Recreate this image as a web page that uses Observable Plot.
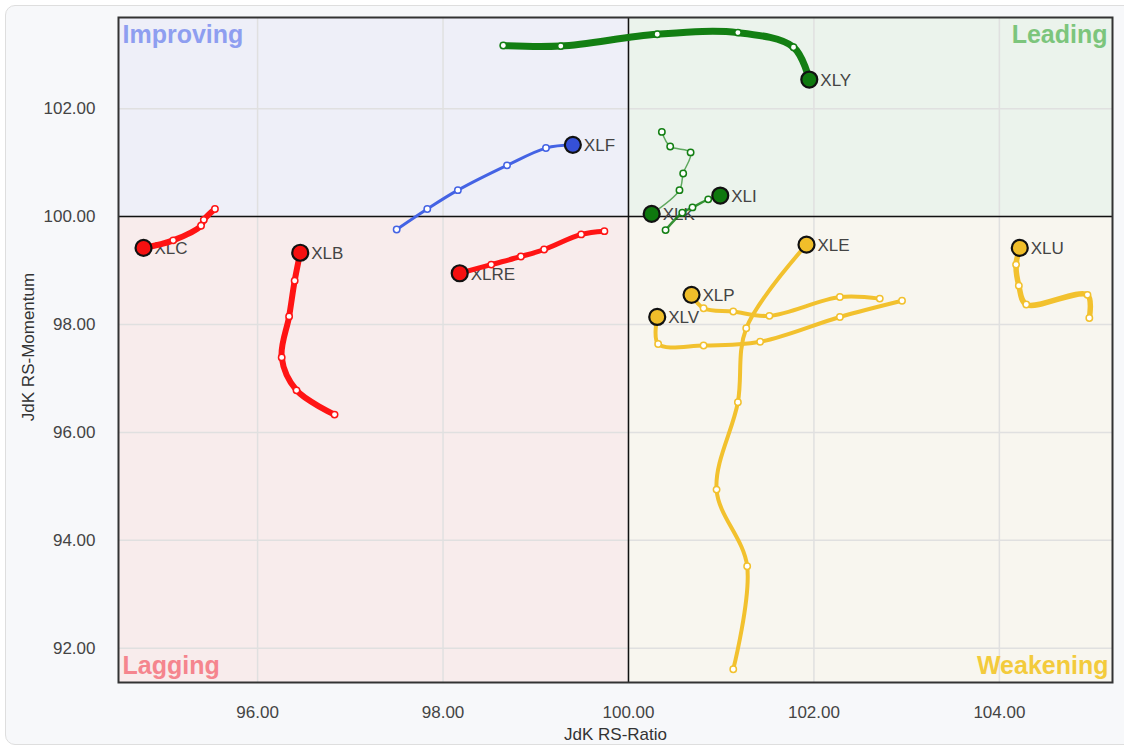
<!DOCTYPE html>
<html>
<head>
<meta charset="utf-8">
<script src="https://cdn.jsdelivr.net/npm/d3@7"></script>
<script src="https://cdn.jsdelivr.net/npm/@observablehq/plot@0.6"></script>
<style>
  html, body { margin: 0; padding: 0; background: #ffffff; width: 1124px; height: 748px; overflow: hidden; }
  #card { position: absolute; left: 5px; top: 5px; width: 1140px; height: 738px; background: #f7f8fa; border: 1px solid #dedede; border-radius: 10px; }
  #chart { position: absolute; left: 0; top: 0; }
</style>
</head>
<body>
<div id="card"></div>
<div id="chart"></div>
<script>
// ---------- DATA ----------
const symbols = ["XLY", "XLF", "XLK", "XLI", "XLC", "XLB", "XLRE", "XLE", "XLP", "XLV", "XLU"];
// trail points, oldest first, last = current (head)
const rsRatio = [
  [98.65, 99.27, 100.31, 101.18, 101.78, 101.95],   // XLY
  [97.50, 97.83, 98.16, 98.69, 99.11, 99.40],       // XLF
  [100.36, 100.45, 100.67, 100.59, 100.55, 100.25], // XLK
  [100.40, 100.58, 100.69, 100.86, 100.99],         // XLI
  [95.54, 95.42, 95.39, 95.09, 94.77],              // XLC
  [96.83, 96.42, 96.26, 96.34, 96.40, 96.46],       // XLB
  [99.74, 99.49, 99.09, 98.84, 98.52, 98.18],       // XLRE
  [101.13, 101.28, 100.95, 101.18, 101.27, 101.92], // XLE
  [102.71, 102.28, 101.52, 101.13, 100.81, 100.68], // XLP
  [102.95, 102.28, 101.42, 100.81, 100.32, 100.31], // XLV
  [104.97, 104.95, 104.29, 104.21, 104.18, 104.22]  // XLU
];
const rsMomentum = [
  [103.17, 103.16, 103.38, 103.41, 103.14, 102.54], // XLY
  [99.76, 100.14, 100.49, 100.95, 101.27, 101.33],  // XLF
  [101.57, 101.30, 101.19, 100.80, 100.49, 100.05], // XLK
  [99.75, 100.07, 100.17, 100.32, 100.39],          // XLI
  [100.14, 99.94, 99.83, 99.56, 99.42],             // XLC
  [96.33, 96.78, 97.39, 98.15, 98.81, 99.33],       // XLB
  [99.73, 99.67, 99.39, 99.26, 99.11, 98.95],       // XLRE
  [91.61, 93.52, 94.94, 96.56, 97.93, 99.48],       // XLE
  [98.48, 98.51, 98.16, 98.24, 98.30, 98.55],       // XLP
  [98.44, 98.14, 97.68, 97.61, 97.64, 98.14],       // XLV
  [98.12, 98.55, 98.37, 98.72, 99.11, 99.42]        // XLU
];
const xTicks = [96, 98, 100, 102, 104];
const yTicks = [92, 94, 96, 98, 100, 102];
const quadrantNames = ["Improving", "Leading", "Lagging", "Weakening"];
const center = 100;
const xDomain = [94.50, 105.22];
const yDomain = [91.365, 103.69];

// ---------- STYLE ----------
const quadBg = {Improving: "#eeeff8", Leading: "#ebf3ec", Lagging: "#f8ecec", Weakening: "#f8f6ef"};
const quadText = {Improving: "#8e9ef0", Leading: "#7cc57c", Lagging: "#f5858e", Weakening: "#f3cb3c"};
const lineColor = {Improving: "#4463e4", Leading: "#137f13", Lagging: "#ff1414", Weakening: "#f2c12e"};
const headColor = {Improving: "#3550d8", Leading: "#0e780e", Lagging: "#f51010", Weakening: "#f0be2a"};
const trailWidth = {XLY: 7, XLF: 3, XLK: 1.5, XLI: 2.5, XLC: 6, XLB: 6, XLRE: 5, XLE: 4, XLP: 4, XLV: 4, XLU: 5.5};
const trailOpacity = {XLK: 0.65, XLI: 0.85};

function quadrantOf(x, y) {
  if (x < center) return y >= center ? "Improving" : "Lagging";
  return y >= center ? "Leading" : "Weakening";
}

// ---------- TABLES ----------
const points = [];
const heads = [];
symbols.forEach((s, k) => {
  const xs = rsRatio[k], ys = rsMomentum[k];
  const q = quadrantOf(xs[xs.length - 1], ys[ys.length - 1]);
  xs.forEach((x, i) => {
    const row = {symbol: s, i, x, y: ys[i], quadrant: q};
    if (i === xs.length - 1) heads.push(row); else points.push(row);
  });
});
const allRows = symbols.map((s, k) => rsRatio[k].map((x, i) => ({symbol: s, x, y: rsMomentum[k][i]})));

const quads = quadrantNames.map(n => ({
  name: n,
  x1: (n === "Improving" || n === "Lagging") ? xDomain[0] : center,
  x2: (n === "Improving" || n === "Lagging") ? center : xDomain[1],
  y1: (n === "Improving" || n === "Leading") ? center : yDomain[0],
  y2: (n === "Improving" || n === "Leading") ? yDomain[1] : center
}));

const qLabel = (n, anchor, dx, dy) => Plot.text([n], {
  text: d => d, frameAnchor: anchor, dx, dy, fill: quadText[n],
  fontSize: 25, fontWeight: "bold", fontFamily: "Liberation Sans, Arial, sans-serif"
});

const trailMarks = [];
symbols.forEach((s, k) => {
  const head = heads.find(h => h.symbol === s);
  const q = head.quadrant;
  trailMarks.push(Plot.line(allRows[k], {
    x: "x", y: "y", curve: "catmull-rom",
    stroke: lineColor[q], strokeWidth: trailWidth[s], strokeOpacity: trailOpacity[s] ?? 1,
    strokeLinecap: "round", strokeLinejoin: "round"
  }));
});

const chart = Plot.plot({
  width: 1124,
  height: 748,
  marginLeft: 118,
  marginRight: 12,
  marginTop: 17,
  marginBottom: 66,
  style: {background: "transparent", fontFamily: "Liberation Sans, Arial, sans-serif", fontSize: "17px", color: "#444"},
  x: {domain: xDomain},
  y: {domain: yDomain},
  marks: [
    Plot.rect(quads, {x1: "x1", x2: "x2", y1: "y1", y2: "y2", fill: d => quadBg[d.name]}),
    Plot.ruleX(xTicks, {stroke: "#e0e0e0", strokeWidth: 1.5}),
    Plot.ruleY(yTicks, {stroke: "#e0e0e0", strokeWidth: 1.5}),
    Plot.ruleX([center], {stroke: "#111", strokeWidth: 1.5}),
    Plot.ruleY([center], {stroke: "#111", strokeWidth: 1.5}),
    Plot.frame({stroke: "#333", strokeWidth: 2}),
    Plot.axisX(xTicks, {tickSize: 0, tickPadding: 23, tickFormat: d3.format(".2f"), label: null, fill: "#444"}),
    Plot.axisY(yTicks, {tickSize: 0, tickPadding: 23, tickFormat: d3.format(".2f"), label: null, fill: "#444"}),
    Plot.text(["JdK RS-Ratio"], {text: d => d, frameAnchor: "bottom", dy: 57, fill: "#333", fontSize: 17}),
    Plot.text(["JdK RS-Momentum"], {text: d => d, frameAnchor: "left", rotate: -90, dx: -90, dy: -3, textAnchor: "middle", lineAnchor: "middle", fill: "#333", fontSize: 17}),
    qLabel("Improving", "top-left", 4, 8),
    qLabel("Leading", "top-right", -5, 8),
    qLabel("Lagging", "bottom-left", 4, -9),
    qLabel("Weakening", "bottom-right", -4, -9),
    Plot.text(heads, {x: "x", y: "y", text: "symbol", dx: 11, dy: 1, textAnchor: "start", fill: "#444", fontSize: 17}),
    ...trailMarks,
    Plot.dot(points, {x: "x", y: "y", r: 3.2, fill: "#fff", stroke: d => lineColor[d.quadrant], strokeWidth: 1.5}),
    Plot.dot(heads, {x: "x", y: "y", r: 8, fill: d => headColor[d.quadrant], stroke: "#111", strokeWidth: 2.2})
  ]
});
document.getElementById("chart").appendChild(chart);
</script>
</body>
</html>
